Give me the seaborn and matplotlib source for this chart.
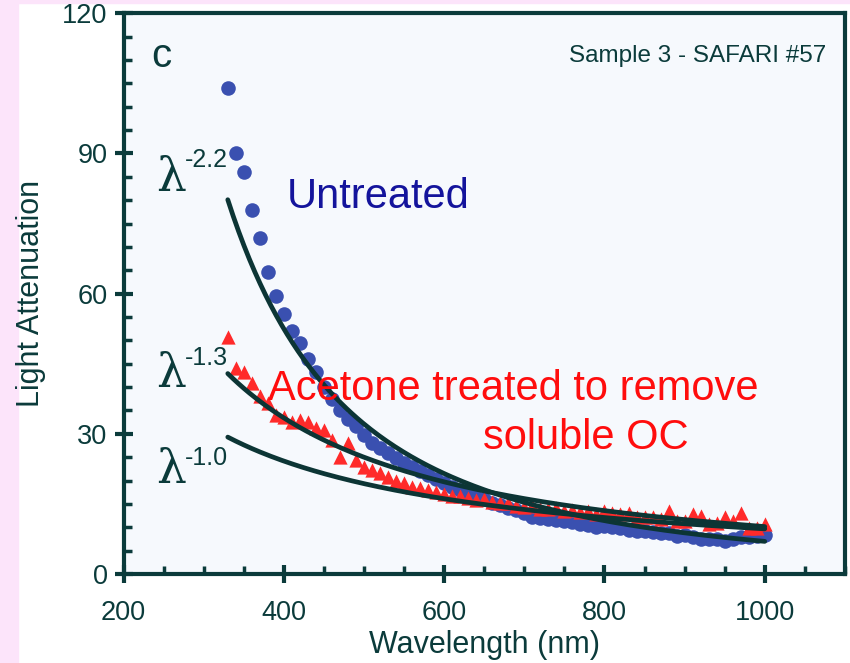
import numpy as np
import pandas as pd
import matplotlib
matplotlib.use("Agg")
import matplotlib.pyplot as plt
from matplotlib.patches import Rectangle
from matplotlib.ticker import MultipleLocator
import seaborn as sns

# ------------------------------------------
# Data (nm, light attenuation)
# ------------------------------------------
wavelength = list(range(330, 1001, 10))

untreated = [104, 90, 86, 78, 72, 64.6, 59.4, 55.6, 52, 49.4,
             46, 43.3, 40, 37.5, 35, 33.2, 31.6, 29.8, 28, 27,
             26, 24.8, 23.8, 23, 22, 21.2, 20.4, 19.4, 18.6, 18,
             17.2, 16.5, 16, 15.3, 14.8, 14.2, 13.6, 13, 12.2, 11.9,
             11.8, 11.5, 11.3, 11.1, 10.8, 10.4, 10.1, 10.2, 10, 9.8,
             9.5, 9.3, 9.2, 9, 8.8, 8.7, 8.2, 8.4, 8, 7.6,
             7.4, 7.6, 7, 7.5, 7.9, 8, 8.2, 8.4]

acetone = [50.8, 44.1, 43.3, 40.9, 38, 36.5, 34, 33.7, 32.6, 33,
           32.6, 31.2, 30.9, 28.7, 25.1, 28, 24.4, 23, 22.3, 21.6,
           20.8, 19.8, 19.4, 18.7, 18.4, 18, 17.6, 17.2, 16.6, 16.8,
           16.2, 15.9, 16, 15.4, 15.1, 15.3, 14.6, 14.4, 14.6, 14,
           13.9, 14.2, 13.5, 13.6, 13.2, 13.5, 12.9, 13.5, 13.1, 12.8,
           13.1, 12.1, 12.1, 12.1, 11.7, 13.5, 11.4, 11.4, 12.8, 12.4,
           10.6, 11, 12.1, 11.4, 13.1, 9.9, 9.9, 10.6]

# power-law fits: exponent and value at 330 nm
fit_exponents = [-2.2, -1.3, -1.0]
fit_start = [80.1, 42.9, 29.3]
fit_labels = ["-2.2", "-1.3", "-1.0"]

# ------------------------------------------
# Style
# ------------------------------------------
dark = "#0b3b3b"
sns.set_style("ticks")
plt.rcParams["font.family"] = ["Liberation Sans", "DejaVu Sans"]
plt.rcParams["axes.edgecolor"] = dark
plt.rcParams["xtick.color"] = dark
plt.rcParams["ytick.color"] = dark
plt.rcParams["text.color"] = dark
plt.rcParams["axes.labelcolor"] = dark

fig = plt.figure(figsize=(8.5, 6.63), dpi=100, facecolor="white")
fig.patches.append(Rectangle((0, 0), 18 / 850, 1, transform=fig.transFigure,
                             color="#fce4fa", zorder=-1))
fig.patches.append(Rectangle((0, 1 - 3 / 663), 1, 3 / 663, transform=fig.transFigure,
                             color="#fce4fa", zorder=-1))
ax = fig.add_axes([0.1454, 0.1342, 0.994 - 0.1454, 0.980 - 0.1342])
ax.set_facecolor("#f6f9fd")

# ------------------------------------------
# Points
# ------------------------------------------
df = pd.DataFrame({"wl": wavelength, "untreated": untreated, "acetone": acetone})
sns.scatterplot(data=df, x="wl", y="untreated", ax=ax, color="#3a50b0",
                marker="o", s=110, linewidth=0, zorder=3)
sns.scatterplot(data=df, x="wl", y="acetone", ax=ax, color="#ff2a2a",
                marker="^", s=105, linewidth=0, zorder=4)

# ------------------------------------------
# Fit curves
# ------------------------------------------
grid = np.linspace(330, 1000, 200)
for k, a in zip(fit_exponents, fit_start):
    sns.lineplot(x=grid, y=a * (grid / 330.0) ** k, ax=ax, color="#0c3535",
                 linewidth=3.4, zorder=5)

# ------------------------------------------
# Axes
# ------------------------------------------
ax.set_xlim(200, 1100)
ax.set_ylim(0, 120)
ax.xaxis.set_major_locator(MultipleLocator(200))
ax.xaxis.set_minor_locator(MultipleLocator(50))
ax.yaxis.set_major_locator(MultipleLocator(30))
ax.yaxis.set_minor_locator(MultipleLocator(5))
ax.set_xticks([200, 400, 600, 800, 1000])
ax.tick_params(which="both", top=False, right=False)
ax.tick_params(which="major", direction="inout", length=13, width=3, labelsize=19.5)
ax.tick_params(which="minor", direction="in", length=6, width=2.5)
ax.tick_params(axis="x", which="major", pad=12)
ax.tick_params(axis="y", which="major", pad=5)
for side in ["left", "right", "top", "bottom"]:
    ax.spines[side].set_linewidth(3)
    ax.spines[side].set_visible(True)

ax.set_xlabel("Wavelength (nm)", fontsize=22, labelpad=3)
ax.set_ylabel("Light Attenuation", fontsize=22, labelpad=12)

# ------------------------------------------
# Annotations
# ------------------------------------------
ax.text(235, 108.4, "c", fontsize=29, va="baseline")
ax.text(1077, 109.5, "Sample 3 - SAFARI #57", fontsize=17.5, ha="right", va="baseline")

lam_base = [81.9, 40.1, 19.5]
sup_base = [87.2, 44.8, 23.4]
for lab, yb, ys in zip(fit_labels, lam_base, sup_base):
    ax.text(240, yb, "\u03bb", fontsize=34, family="DejaVu Serif", va="baseline")
    ax.text(276, ys, lab, fontsize=18, va="baseline")

ax.text(403, 78.4, "Untreated", fontsize=30, color="#14149c", va="baseline", zorder=6)
ax.text(380, 37.3, "Acetone treated to remove", fontsize=30, color="#ff0d0d",
        va="baseline", zorder=6)
ax.text(649, 26.8, "soluble OC", fontsize=30, color="#ff0d0d", va="baseline", zorder=6)

fig.savefig("out.png", dpi=100, facecolor=fig.get_facecolor())
